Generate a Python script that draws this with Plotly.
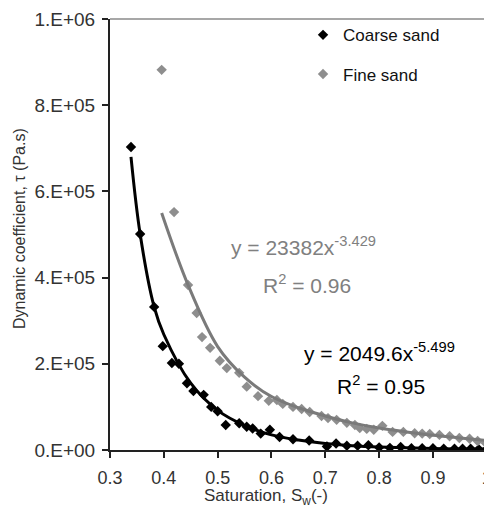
import plotly.graph_objects as go

# ---- data ----
coarse_x = [0.339, 0.356, 0.382, 0.398, 0.415, 0.428, 0.443, 0.455, 0.474, 0.488, 0.500, 0.515,
            0.540, 0.554, 0.565, 0.580, 0.597, 0.615, 0.640, 0.670, 0.703, 0.720, 0.740, 0.760,
            0.780, 0.800, 0.820, 0.840, 0.860, 0.880, 0.900, 0.920, 0.940, 0.955, 0.970, 0.985, 1.000]
coarse_y = [703e3, 501e3, 332e3, 241e3, 202e3, 200e3, 155e3, 137e3, 128e3, 100e3, 90e3, 58e3,
            62e3, 54e3, 50e3, 38e3, 47e3, 30e3, 25e3, 22e3, 8e3, 15e3, 10e3, 10e3,
            11e3, 6e3, 5e3, 7e3, 4e3, 4e3, 4e3, 3e3, 3e3, 3e3, 3e3, 2e3, 2e3]

fine_x = [0.396, 0.419, 0.445, 0.461, 0.471, 0.486, 0.504, 0.517, 0.540, 0.554, 0.575, 0.595,
          0.610, 0.621, 0.640, 0.656, 0.671, 0.693, 0.705, 0.721, 0.740, 0.755, 0.764, 0.777,
          0.790, 0.806, 0.825, 0.845, 0.866, 0.880, 0.894, 0.912, 0.931, 0.949, 0.968, 0.983, 0.998]
fine_y = [882e3, 552e3, 383e3, 318e3, 262e3, 237e3, 207e3, 190e3, 179e3, 147e3, 125e3, 114e3,
          116e3, 107e3, 100e3, 95e3, 88e3, 79e3, 74e3, 70e3, 63e3, 58e3, 51e3, 49e3,
          47e3, 56e3, 42e3, 42e3, 39e3, 38e3, 37e3, 35e3, 32e3, 28e3, 26e3, 21e3, 16e3]

# trend lines as drawn in the reference
coarse_fit_x = [0.339, 0.356, 0.382, 0.40, 0.45, 0.50, 0.55, 0.60, 0.65, 0.70, 0.75, 0.80, 0.90, 1.0]
coarse_fit_y = [680e3, 501e3, 332e3, 268e3, 155e3, 92e3, 57e3, 35e3, 23e3, 15e3, 10e3, 7e3, 3.5e3, 2e3]

fine_fit_x = [0.396, 0.445, 0.50, 0.55, 0.60, 0.65, 0.70, 0.75, 0.80, 0.85, 0.90, 0.95, 1.0]
fine_fit_y = [550e3, 383e3, 240e3, 169e3, 124e3, 98e3, 79e3, 63e3, 51e3, 42e3, 34e3, 28e3, 22e3]

x_ticks = [0.3, 0.4, 0.5, 0.6, 0.7, 0.8, 0.9, 1.0]
x_ticktext = ["0.3", "0.4", "0.5", "0.6", "0.7", "0.8", "0.9", "1"]
y_ticks = [0, 2e5, 4e5, 6e5, 8e5, 1e6]
y_ticktext = ["0.E+00", "2.E+05", "4.E+05", "6.E+05", "8.E+05", "1.E+06"]

FONT = "Liberation Sans, Arial, sans-serif"
BLACK = "#000000"
GRAY_M = "#8e8e8e"
GRAY_L = "#7a7a7a"

# the page body has an 8px default margin: draw the figure 8px smaller and shift by 8
OFF = 8
L, R, T, B = 110 - OFF, 487 - OFF, 19 - OFF, 450 - OFF   # plot area in figure pixels
W, H = 492 - OFF, 508 - OFF
PW, PH = R - L, B - T


def px(xp):
    return (xp - OFF - L) / PW


def py(yp):
    return (B - (yp - OFF)) / PH


fig = go.Figure()
fig.add_trace(go.Scatter(x=coarse_x, y=coarse_y, mode="markers", name="Coarse sand",
                         legendgroup="a",
                         marker=dict(symbol="diamond", size=8, color=BLACK)))
fig.add_trace(go.Scatter(x=fine_x, y=fine_y, mode="markers", name="Fine sand",
                         legendgroup="b",
                         marker=dict(symbol="diamond", size=8, color=GRAY_M)))
fig.add_trace(go.Scatter(x=fine_fit_x, y=fine_fit_y, mode="lines", showlegend=False,
                         line=dict(color=GRAY_L, width=3, shape="spline", smoothing=1.0)))
fig.add_trace(go.Scatter(x=coarse_fit_x, y=coarse_fit_y, mode="lines", showlegend=False,
                         line=dict(color=BLACK, width=3, shape="spline", smoothing=1.0)))

ann_common = dict(xref="paper", yref="paper", showarrow=False, xanchor="center", yanchor="middle")

fig.update_layout(
    width=W, height=H,
    margin=dict(l=L, r=W - R, t=T, b=H - B, autoexpand=False),
    paper_bgcolor="white", plot_bgcolor="white",
    font=dict(family=FONT, color="#222222"),
    showlegend=True,
    legend=dict(x=0.512, y=1.004, xanchor="left", yanchor="top",
                font=dict(size=17, color="#111111"), bgcolor="rgba(0,0,0,0)",
                tracegroupgap=14, itemwidth=30),
    xaxis=dict(range=[0.3, 1.0004], tickvals=x_ticks, ticktext=x_ticktext,
               showgrid=False, zeroline=False, showline=True, linecolor="#222222", linewidth=2,
               ticks="outside", ticklen=6, tickwidth=2, tickcolor="#222222",
               ticklabelstandoff=4, ticklabeloverflow="allow",
               tickfont=dict(size=18, color="#333333")),
    yaxis=dict(range=[0, 1e6], tickvals=y_ticks, ticktext=y_ticktext,
               showgrid=False, zeroline=False, showline=True, linecolor="#222222", linewidth=2,
               ticks="outside", ticklen=6, tickwidth=2, tickcolor="#222222",
               ticklabelstandoff=3, ticklabeloverflow="allow",
               tickfont=dict(size=19, color="#333333")),
    shapes=[
        dict(type="line", xref="paper", yref="paper", x0=0, x1=1, y0=1, y1=1,
             line=dict(color="#8a8a8a", width=1.5)),
        dict(type="line", xref="paper", yref="paper", x0=1, x1=1, y0=0, y1=1,
             line=dict(color="#8a8a8a", width=1.5)),
    ],
    annotations=[
        dict(text="y = 23382x<sup>-3.429</sup>", x=px(303), y=py(246),
             font=dict(size=21, color="#808080"), **ann_common),
        dict(text="R<sup>2</sup> = 0.96", x=px(307), y=py(284),
             font=dict(size=21, color="#808080"), **ann_common),
        dict(text="y = 2049.6x<sup>-5.499</sup>", x=px(379), y=py(352),
             font=dict(size=21, color="#000000"), **ann_common),
        dict(text="R<sup>2</sup> = 0.95", x=px(381), y=py(385),
             font=dict(size=21, color="#000000"), **ann_common),
        dict(text="Saturation, S<sub>w</sub>(-)", x=px(266), y=py(497),
             font=dict(size=17, color="#333333"), **ann_common),
        dict(text="Dynamic coefficient, τ (Pa.s)", x=px(19), y=py(229), textangle=-90,
             font=dict(size=16, color="#333333"), **ann_common),
    ],
)

fig.write_html("out.html")
